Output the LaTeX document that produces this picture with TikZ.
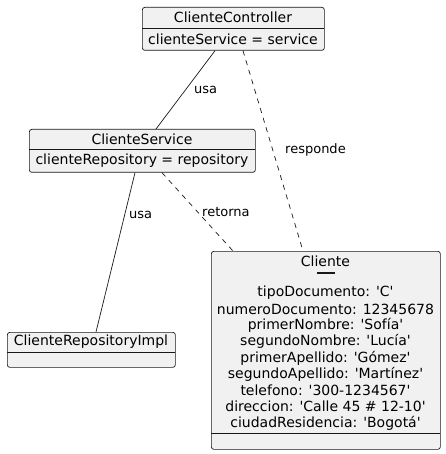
\documentclass[tikz,border=0pt]{standalone}
\usepackage{fontspec}
\setmainfont{DejaVu Sans}[Ligatures=TeXOff]
\usetikzlibrary{calc}
\definecolor{boxfill}{HTML}{F1F1F1}
\definecolor{boxline}{HTML}{181818}
\begin{document}
\begin{tikzpicture}[x=1pt,y=-1pt,
  classbox/.style={draw=boxline,fill=boxfill,rounded corners=2.5pt,line width=0.7pt,inner sep=0pt,anchor=north west},
  divider/.style={draw=boxline,line width=0.7pt},
  ctext/.style={inner sep=0pt,font=\fontsize{14}{16}\selectfont,text=black},
  elabel/.style={inner sep=0pt,anchor=west,font=\fontsize{13}{15}\selectfont,text=black},
  conn/.style={draw=boxline,line width=0.7pt},
  dconn/.style={conn,dash pattern=on 5pt off 5pt}]
\useasboundingbox (0,0) rectangle (445,454);
% ClienteController
\node[classbox,minimum width=182pt,minimum height=43pt] (ctrl) at (142,7) {};
\draw[divider] (142,28) -- (324,28);
\node[ctext] (ctrlT) at (233,17.5) {ClienteController};
\node[ctext] (ctrlA) at (233,39) {clienteService = service};
% ClienteService
\node[classbox,minimum width=226pt,minimum height=43pt] (svc) at (29,129) {};
\draw[divider] (29,149.5) -- (255,149.5);
\node[ctext] (svcT) at (142,139) {ClienteService};
\node[ctext] (svcA) at (142,160.5) {clienteRepository = repository};
% ClienteRepositoryImpl
\node[classbox,minimum width=168pt,minimum height=35pt] (repo) at (7,332) {};
\draw[divider] (7,352) -- (175,352);
\node[ctext] (repoT) at (91,342) {ClienteRepositoryImpl};
% Cliente
\node[classbox,minimum width=229pt,minimum height=198pt] (cli) at (211,251) {};
\draw[divider] (211,433) -- (440,433);
\node[ctext] (cliT) at (325.5,261) {Cliente};
\draw[line width=1.6pt,boxline] (317,273) -- (335,273);
\foreach \t [count=\i from 0] in {tipoDocumento: 'C',numeroDocumento: 12345678,primerNombre: 'Sofía',segundoNombre: 'Lucía',primerApellido: 'Gómez',segundoApellido: 'Martínez',telefono: '300-1234567',direccion: 'Calle 45 \# 12-10',ciudadResidencia: 'Bogotá'}
  \node[ctext] (cliA\i) at (325.5,293+16.25*\i) {\t};
% connectors
\draw[conn] ([xshift=73pt]ctrl.south west) -- ([xshift=127pt]svc.north west);
\draw[dconn] ([xshift=101pt]ctrl.south west) -- ([xshift=92pt]cli.north west);
\draw[conn] ([xshift=106pt]svc.south west) -- ([xshift=89pt]repo.north west);
\draw[dconn] ([xshift=133pt]svc.south west) -- ([xshift=22pt]cli.north west);
% labels
\node[elabel] (l1) at (194,90) {usa};
\node[elabel] (l2) at (285,150) {responde};
\node[elabel] (l3) at (129,215) {usa};
\node[elabel] (l4) at (202,212) {retorna};
\end{tikzpicture}
\end{document}
